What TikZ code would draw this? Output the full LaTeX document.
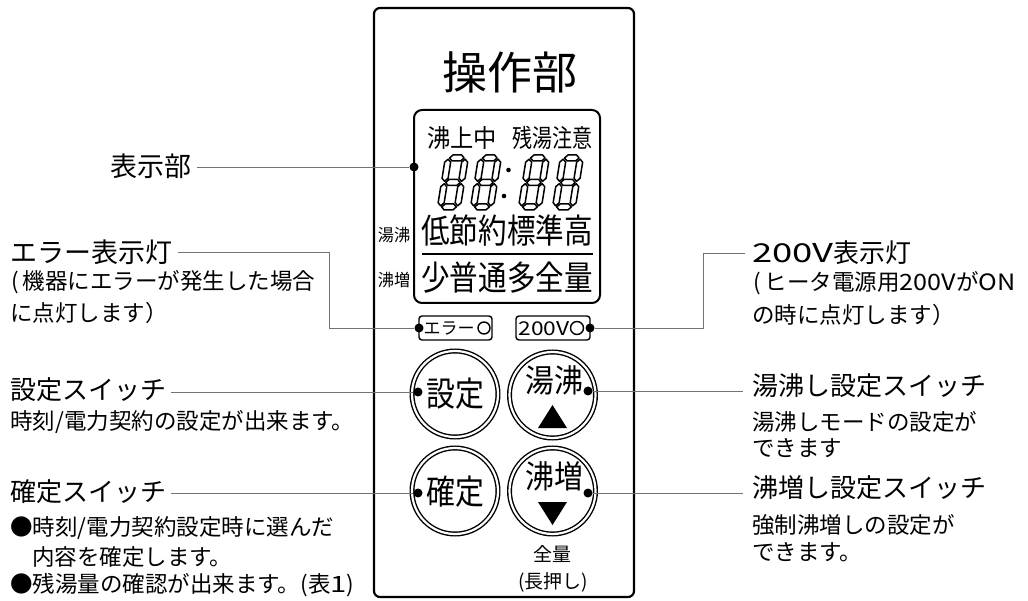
\documentclass[tikz,border=0pt]{standalone}
\usepackage{fontspec}
\usepackage{graphicx}
\setmainfont{Noto Sans CJK JP}
\newcommand\jpsize[1]{\fontsize{#1}{#1}\selectfont}
\newcommand\lparen{(\hspace{4pt}}
\newcommand\wide[1]{\scalebox{1.3}[1]{#1}}
\newcommand\semiwide[1]{\scalebox{1.12}[1]{#1}}
\newcommand\segdigit[2]{%
  \begin{scope}[shift={(#1,#2)}, xslant=0.16]
    \draw[seg] (4.2,-52)--(7.2,-55)--(15.8,-55)--(18.8,-52)--(15.8,-49)--(7.2,-49)--cycle;
    \draw[seg] (4.2,-27.5)--(7.2,-30.5)--(15.8,-30.5)--(18.8,-27.5)--(15.8,-24.5)--(7.2,-24.5)--cycle;
    \draw[seg] (4.2,-3)--(7.2,-6)--(15.8,-6)--(18.8,-3)--(15.8,0)--(7.2,0)--cycle;
    \draw[seg] (3,-50.8)--(6,-47.8)--(6,-31.7)--(3,-28.7)--(0,-31.7)--(0,-47.8)--cycle;
    \draw[seg] (3,-26.3)--(6,-23.3)--(6,-7.2)--(3,-4.2)--(0,-7.2)--(0,-23.3)--cycle;
    \draw[seg] (20,-50.8)--(23,-47.8)--(23,-31.7)--(20,-28.7)--(17,-31.7)--(17,-47.8)--cycle;
    \draw[seg] (20,-26.3)--(23,-23.3)--(23,-7.2)--(20,-4.2)--(17,-7.2)--(17,-23.3)--cycle;
  \end{scope}}
\tikzset{
  lbl/.style={inner sep=0pt, anchor=west, font=\jpsize{26}},
  sub/.style={inner sep=0pt, anchor=west, font=\jpsize{22.5}},
  ctext/.style={inner sep=0pt},
  leader/.style={draw=black!55, line width=0.9pt},
  pin/.style={circle, fill=black, inner sep=0pt, minimum size=9pt},
  seg/.style={line width=1.5pt, line join=round},
  btn/.style={circle, draw, line width=1.4pt, double, double distance=2.2pt, minimum size=86pt, inner sep=0pt},
  lamp/.style={draw, line width=1.4pt, rounded corners=3pt},
}
\begin{document}
\begin{tikzpicture}[x=1pt, y=-1pt]
\fill[white] (0,0) rectangle (1028,601);
\useasboundingbox (0,0) rectangle (1028,601);

% panel
\draw[line width=2.2pt, rounded corners=6pt] (374,8) rectangle (634,597);
\node[ctext, font=\jpsize{45}] (title) at (510,72) {操作部};

% LCD
\draw[line width=2pt, rounded corners=8pt] (414,110) rectangle (600,303);
\node[ctext, font=\jpsize{25}, xscale=0.93] (l1) at (462,138) {沸上中};
\node[ctext, font=\jpsize{25}, xscale=0.8] (l2) at (552,138) {残湯注意};
\segdigit{437}{210}
\segdigit{470}{210}
\segdigit{518}{210}
\segdigit{552}{210}
\fill (508.5,170) circle (2.3pt);
\fill (504,196) circle (2.3pt);
\node[ctext, font=\jpsize{34}, xscale=0.84] (l3) at (507,231) {低節約標準高};
\draw[line width=1.5pt] (422,254) -- (593,254);
\node[ctext, font=\jpsize{34}, xscale=0.84] (l4) at (507,278) {少普通多全量};
\node[ctext, font=\jpsize{17}, xscale=0.95] (s1) at (394,235) {湯沸};
\node[ctext, font=\jpsize{17}, xscale=0.95] (s2) at (394,280) {沸増};

% lamps
\draw[lamp] (419,316) rectangle (492,340);
\node[ctext, font=\jpsize{17}] (e1) at (449,329) {エラー};
\draw[line width=1.4pt] (484,328) circle (6pt);
\draw[lamp] (516,316) rectangle (590,340);
\node[ctext, font=\jpsize{19}, xscale=1.2] (e2) at (544,329) {200V};
\draw[line width=1.4pt] (577,328) circle (6.5pt);

% buttons
\node[btn] (b1) at (455,394) {};
\node[btn] (b2) at (552.5,395) {};
\node[btn] (b3) at (455,491) {};
\node[btn] (b4) at (552.5,491) {};
\node[ctext, font=\jpsize{34}, xscale=0.85] (bt1) at (455,394) {設定};
\node[ctext, font=\jpsize{34}, xscale=0.85] (bt3) at (455,492) {確定};
\node[ctext, font=\jpsize{32}, xscale=0.9] (bt2) at (554,380) {湯沸};
\node[ctext, font=\jpsize{32}, xscale=0.9] (bt4) at (554,476) {沸増};
\fill (538,428) -- (567,428) -- (552.5,405) -- cycle;
\fill (538,502) -- (567,502) -- (552.5,525) -- cycle;
\node[ctext, font=\jpsize{19}] (zr) at (552,554) {全量};
\node[ctext, font=\jpsize{19}] (nag) at (553,582) {(長押し)};

% pins
\node[pin] (d1) at (414,167) {};
\node[pin] (d2) at (419,328) {};
\node[pin] (d6) at (590,328) {};
\node[pin] (d3) at (418,392) {};
\node[pin] (d4) at (588,391) {};
\node[pin] (d5) at (418,493) {};
\node[pin] (d7) at (588,493) {};

% left labels
\node[lbl, font=\jpsize{27}] (t1) at (110,166) {表示部};
\node[lbl, font=\jpsize{27}] (t2) at (10,252) {エラー表示灯};
\node[sub] (t2a) at (11,282) {\lparen 機器にエラーが発生した場合};
\node[sub] (t2b) at (10,313) {に点灯します）};
\node[lbl] (t3) at (10,390) {設定スイッチ};
\node[sub] (t3a) at (10,422) {時刻/電力契約の設定が出来ます。};
\node[lbl] (t5) at (10,492) {確定スイッチ};
\node[sub] (t5a) at (10,528) {●時刻/電力契約設定時に選んだ};
\node[sub] (t5b) at (32,557) {内容を確定します。};
\node[sub] (t5c) at (10,585) {●残湯量の確認が出来ます。(表\wide{1})};

% right labels
\node[lbl] (t6) at (752,253) {\scalebox{1.4}[1]{200V}表示灯};
\node[sub] (t6a) at (753,283) {\lparen ヒータ電源用\semiwide{200V}が\semiwide{ON}};
\node[sub] (t6b) at (752,315) {の時に点灯します）};
\node[lbl] (t4) at (752,386) {湯沸し設定スイッチ};
\node[sub] (t4a) at (752,422) {湯沸しモードの設定が};
\node[sub] (t4b) at (752,448) {できます};
\node[lbl] (t7) at (752,488) {沸増し設定スイッチ};
\node[sub] (t7a) at (752,525) {強制沸増しの設定が};
\node[sub] (t7b) at (752,552) {できます。};

% leaders
\coordinate (c2) at (329,328);
\coordinate (c6) at (703,328);
\draw[leader] (d1) -- ([xshift=6pt]d1 -| t1.east);
\draw[leader] ([xshift=6pt]t2.east) -| (c2) -- (d2);
\draw[leader] ([xshift=-7pt]t6.west) -| (c6) -- (d6);
\draw[leader] (d3) -- ([xshift=5pt]d3 -| t3.east);
\draw[leader] (d5) -- ([xshift=5pt]d5 -| t5.east);
\draw[leader] (d4) -- ([xshift=-9pt]d4 -| t4.west);
\draw[leader] (d7) -- ([xshift=-9pt]d7 -| t7.west);
\end{tikzpicture}
\end{document}
